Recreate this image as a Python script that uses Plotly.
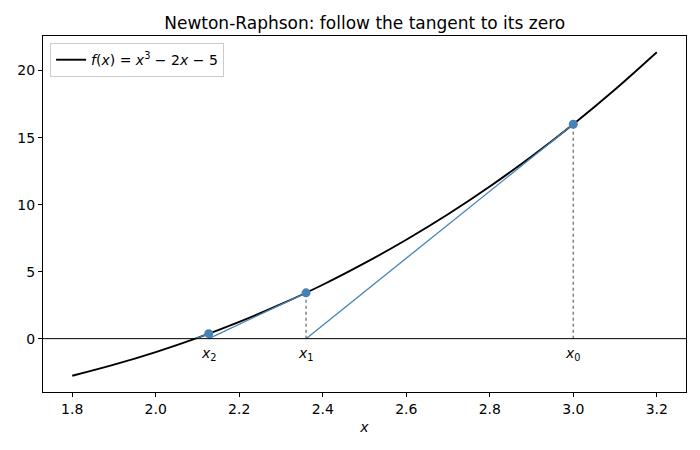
import plotly.graph_objects as go

# curve samples
curve_x = [1.8, 1.9, 2.0, 2.1, 2.2, 2.3, 2.4, 2.5, 2.6, 2.7, 2.8, 2.9, 3.0, 3.1, 3.2]
curve_y = [-2.77, -1.94, -1.0, 0.06, 1.25, 2.57, 4.02, 5.63, 7.38, 9.28, 11.35, 13.59, 16.0, 18.59, 21.37]

# Newton iterates
iter_x = [3.0, 2.36, 2.127]
iter_y = [16.0, 3.42, 0.37]
next_x = [2.36, 2.127, 2.095]   # tangent zeros
iter_labels = ["<i>x</i><sub>0</sub>", "<i>x</i><sub>1</sub>", "<i>x</i><sub>2</sub>"]

BLUE = "#4682B4"
FONT = "DejaVu Sans"

fig = go.Figure()

fig.add_trace(go.Scatter(
    x=curve_x, y=curve_y, mode="lines", line=dict(color="black", width=1.9, shape="spline"),
    name="<i>f</i>(<i>x</i>) = <i>x</i><sup>3</sup> − 2<i>x</i> − 5", showlegend=True))

# tangents
for xi, yi, xn in zip(iter_x, iter_y, next_x):
    fig.add_trace(go.Scatter(x=[xi, xn], y=[yi, 0], mode="lines",
                             line=dict(color=BLUE, width=1.3), showlegend=False, hoverinfo="skip"))
    fig.add_trace(go.Scatter(x=[xi, xi], y=[0, yi], mode="lines",
                             line=dict(color="#808080", width=1.5, dash="dot"), showlegend=False, hoverinfo="skip"))

fig.add_trace(go.Scatter(x=iter_x, y=iter_y, mode="markers",
                         marker=dict(color=BLUE, size=9), showlegend=False))

for xi, lab in zip(iter_x, iter_labels):
    fig.add_annotation(x=xi, y=0, yshift=-15, text=lab, showarrow=False,
                       font=dict(family=FONT, size=14, color="black"))

fig.add_shape(type="line", xref="paper", x0=0, x1=1, yref="y", y0=0, y1=0,
              line=dict(color="black", width=1))

axis_common = dict(showline=True, linecolor="black", linewidth=1, mirror=True,
                   ticks="outside", ticklen=4, tickcolor="black", showgrid=False, zeroline=False,
                   automargin=False,
                   tickfont=dict(family=FONT, size=14, color="black"))

fig.update_layout(
    width=700, height=450,
    margin=dict(l=43, r=14, t=36, b=58),
    plot_bgcolor="white", paper_bgcolor="white",
    title=dict(text="Newton-Raphson: follow the tangent to its zero", x=0.521, xanchor="center",
               y=0.949, yanchor="middle", automargin=False,
               font=dict(family=FONT, size=17, color="black")),
    xaxis=dict(range=[1.73, 3.27], tickvals=[1.8, 2.0, 2.2, 2.4, 2.6, 2.8, 3.0, 3.2],
               ticktext=["1.8", "2.0", "2.2", "2.4", "2.6", "2.8", "3.0", "3.2"],
               title=dict(text="<i>x</i>", font=dict(family=FONT, size=14, color="black"), standoff=6),
               **axis_common),
    yaxis=dict(range=[-3.98, 22.58], tickvals=[0, 5, 10, 15, 20], **axis_common),
    legend=dict(x=0.011, y=0.98, xanchor="left", yanchor="top", bgcolor="white",
                bordercolor="#cccccc", borderwidth=1, itemwidth=30,
                font=dict(family=FONT, size=14, color="black")),
    font=dict(family=FONT),
)

fig.write_html("out.html", config={"displayModeBar": False},
               post_script="document.body.style.margin='0px';")
